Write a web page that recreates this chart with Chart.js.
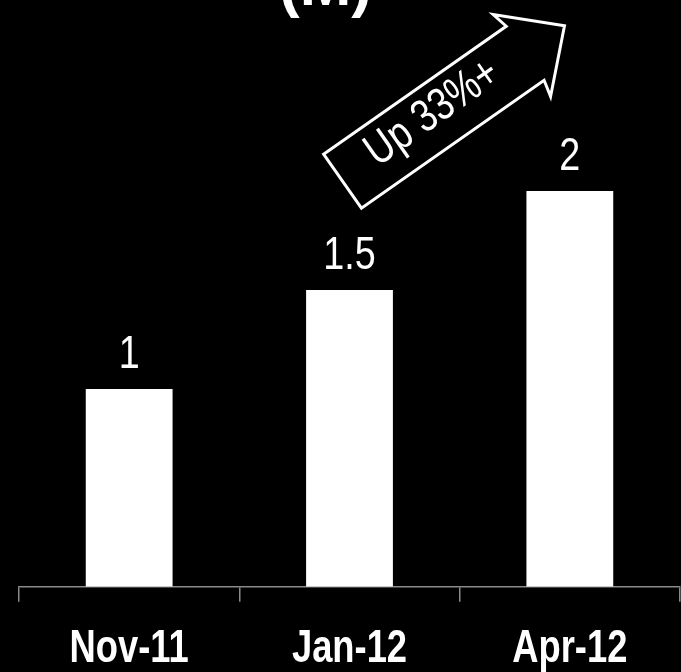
<!DOCTYPE html>
<html>
<head>
<meta charset="utf-8">
<script src="https://cdn.jsdelivr.net/npm/chart.js@4.4.1/dist/chart.umd.min.js"></script>
<style>
  html, body { margin: 0; padding: 0; background: #000; }
  #wrap { width: 681px; height: 672px; position: relative; }
</style>
</head>
<body>
<div id="wrap"><canvas id="growthChart"></canvas></div>
<script>
// data
const categories = ['Nov-11', 'Jan-12', 'Apr-12'];
const values = [1, 1.5, 2];
const valueLabels = ['1', '1.5', '2'];
const unitTitle = '(M)';
const arrowText = 'Up 33%+';

const sans = '"Liberation Sans", Arial, sans-serif';

// no narrow font installed, so squeeze Liberation Sans sideways
function narrowText(ctx, text, x, y, font, squeeze) {
    ctx.save();
    ctx.font = font;
    ctx.translate(x, y);
    ctx.scale(squeeze, 1);
    ctx.fillText(text, 0, 0);
    ctx.restore();
}

// labels above each bar and under each category
const barLabels = {
    id: 'barLabels',
    afterDatasetsDraw(chart) {
        const ctx = chart.ctx;
        const meta = chart.getDatasetMeta(0);
        const xs = chart.scales.x;
        ctx.save();
        ctx.fillStyle = '#fff';
        ctx.textAlign = 'center';
        ctx.textBaseline = 'alphabetic';
        meta.data.forEach((bar, i) => {
            narrowText(ctx, valueLabels[i], bar.x, bar.y - 21, '46px ' + sans, 0.82);
        });
        categories.forEach((c, i) => {
            narrowText(ctx, c, xs.getPixelForValue(i), xs.top + 75, 'bold 46px ' + sans, 0.79);
        });
        ctx.restore();
    }
};

// cut-off title and the "Up 33%+" arrow
const extras = {
    id: 'extras',
    afterDraw(chart) {
        const ctx = chart.ctx;
        const xs = chart.scales.x;
        const ys = chart.scales.y;

        ctx.save();
        ctx.fillStyle = '#fff';
        ctx.font = 'bold 62px ' + sans;
        ctx.textAlign = 'center';
        ctx.textBaseline = 'alphabetic';
        ctx.fillText(unitTitle, xs.getPixelForValue(1) - 24, 5);
        ctx.restore();

        // arrow, anchored at its tail centre
        const tx = xs.getPixelForValue(1) - 7;
        const ty = ys.getPixelForValue(2.05);
        const len = 271, shaftHalf = 33, headHalf = 50, headLen = 48;
        ctx.save();
        ctx.translate(tx, ty);
        ctx.rotate(-35 * Math.PI / 180);
        ctx.beginPath();
        ctx.moveTo(0, -shaftHalf);
        ctx.lineTo(len - headLen, -shaftHalf);
        ctx.lineTo(len - headLen - 4, -headHalf);
        ctx.lineTo(len, 0);
        ctx.lineTo(len - headLen - 4, headHalf);
        ctx.lineTo(len - headLen, shaftHalf);
        ctx.lineTo(0, shaftHalf);
        ctx.closePath();
        ctx.strokeStyle = '#fff';
        ctx.lineWidth = 3;
        ctx.lineJoin = 'miter';
        ctx.stroke();

        ctx.fillStyle = '#fff';
        ctx.textAlign = 'center';
        ctx.textBaseline = 'middle';
        narrowText(ctx, arrowText, 113, -4, '46px ' + sans, 0.8);
        ctx.restore();
    }
};

new Chart(document.getElementById('growthChart'), {
    type: 'bar',
    data: {
        labels: categories,
        datasets: [{
            data: values,
            backgroundColor: '#ffffff',
            borderWidth: 0,
            categoryPercentage: 1,
            barPercentage: 0.394
        }]
    },
    options: {
        responsive: true,
        maintainAspectRatio: false,
        animation: false,
        layout: { padding: { left: 19, right: 1, top: 13, bottom: 15 } },
        plugins: {
            legend: { display: false },
            tooltip: { enabled: false },
            title: { display: false }
        },
        scales: {
            x: {
                grid: {
                    display: true,
                    drawOnChartArea: false,
                    drawTicks: true,
                    tickLength: 15,
                    color: '#8a8a8a',
                    lineWidth: 1.5,
                    offset: true
                },
                border: { display: true, color: '#8a8a8a', width: 1.5 },
                ticks: {
                    // drawn by barLabels in a squeezed face; kept here for layout
                    color: 'rgba(0,0,0,0)',
                    font: { family: sans, size: 46, weight: 'bold' },
                    padding: 0,
                    maxRotation: 0,
                    autoSkip: false
                }
            },
            y: {
                display: false,
                min: 0,
                max: 2.9
            }
        }
    },
    plugins: [barLabels, extras]
});
</script>
</body>
</html>
